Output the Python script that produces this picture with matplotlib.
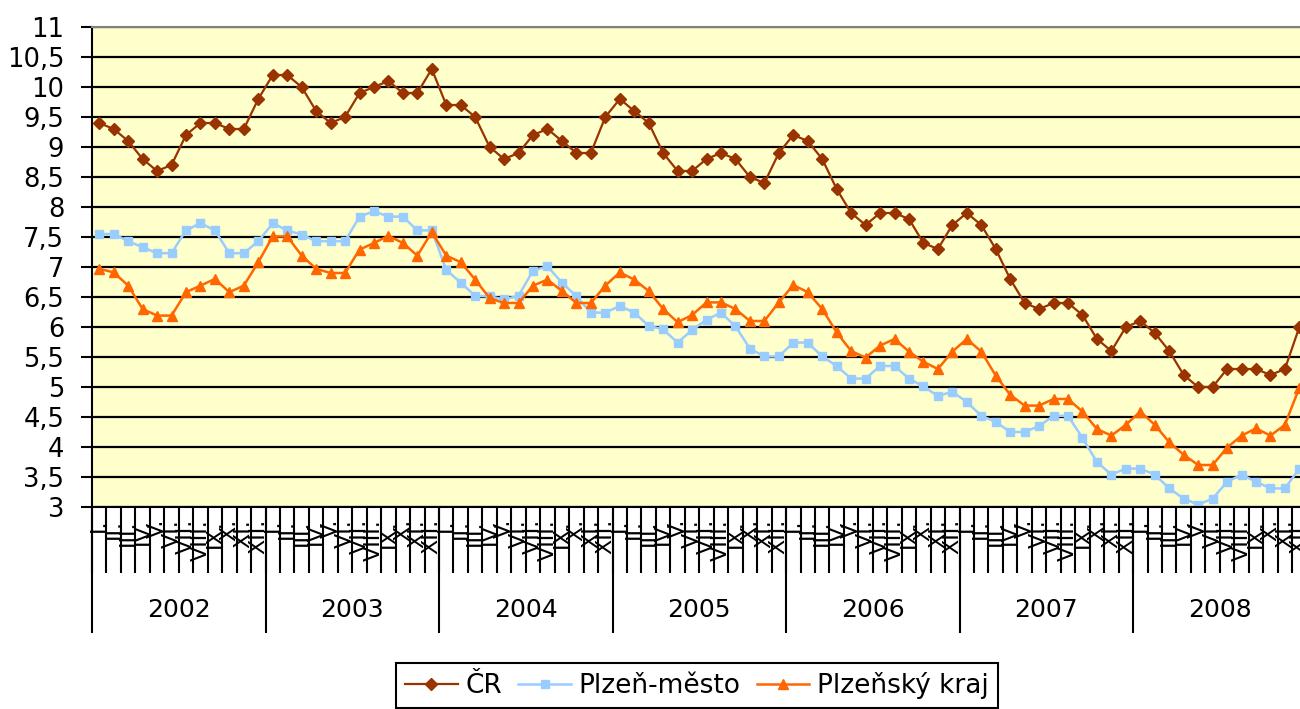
import numpy as np
import matplotlib
matplotlib.use('Agg')
import matplotlib.pyplot as plt

years = ['2002', '2003', '2004', '2005', '2006', '2007', '2008']
months = ['I.', 'II.', 'III.', 'IV.', 'V.', 'VI.', 'VII.', 'VIII.', 'IX.', 'X.', 'XI.', 'XII.']

# nezamestnanost v % (mesicne 2002-2008)
cr = [9.4, 9.3, 9.1, 8.8, 8.6, 8.7, 9.2, 9.4, 9.4, 9.3, 9.3, 9.8,
      10.2, 10.2, 10.0, 9.6, 9.4, 9.5, 9.9, 10.0, 10.1, 9.9, 9.9, 10.3,
      9.7, 9.7, 9.5, 9.0, 8.8, 8.9, 9.2, 9.3, 9.1, 8.9, 8.9, 9.5,
      9.8, 9.6, 9.4, 8.9, 8.6, 8.6, 8.8, 8.9, 8.8, 8.5, 8.4, 8.9,
      9.2, 9.1, 8.8, 8.3, 7.9, 7.7, 7.9, 7.9, 7.8, 7.4, 7.3, 7.7,
      7.9, 7.7, 7.3, 6.8, 6.4, 6.3, 6.4, 6.4, 6.2, 5.8, 5.6, 6.0,
      6.1, 5.9, 5.6, 5.2, 5.0, 5.0, 5.3, 5.3, 5.3, 5.2, 5.3, 6.0]

plzen_mesto = [7.55, 7.55, 7.43, 7.33, 7.23, 7.23, 7.61, 7.73, 7.61, 7.23, 7.23, 7.43,
               7.73, 7.61, 7.54, 7.43, 7.43, 7.43, 7.84, 7.93, 7.84, 7.84, 7.61, 7.61,
               6.95, 6.74, 6.52, 6.51, 6.46, 6.52, 6.94, 7.01, 6.74, 6.51, 6.24, 6.24,
               6.35, 6.24, 6.02, 5.96, 5.74, 5.95, 6.12, 6.24, 6.01, 5.64, 5.51, 5.51,
               5.74, 5.74, 5.51, 5.35, 5.14, 5.14, 5.35, 5.35, 5.14, 5.01, 4.85, 4.92,
               4.75, 4.52, 4.42, 4.25, 4.25, 4.35, 4.52, 4.52, 4.15, 3.75, 3.54, 3.64,
               3.64, 3.54, 3.31, 3.14, 3.04, 3.14, 3.42, 3.54, 3.42, 3.31, 3.31, 3.64]

plzensky_kraj = [6.97, 6.91, 6.69, 6.3, 6.19, 6.19, 6.58, 6.69, 6.8, 6.58, 6.69, 7.08,
                 7.51, 7.51, 7.19, 6.97, 6.9, 6.9, 7.29, 7.4, 7.52, 7.4, 7.19, 7.58,
                 7.19, 7.08, 6.79, 6.48, 6.4, 6.4, 6.69, 6.79, 6.6, 6.4, 6.4, 6.69,
                 6.91, 6.79, 6.6, 6.3, 6.08, 6.2, 6.41, 6.41, 6.3, 6.1, 6.1, 6.41,
                 6.7, 6.58, 6.3, 5.91, 5.6, 5.49, 5.69, 5.8, 5.59, 5.42, 5.3, 5.59,
                 5.8, 5.59, 5.19, 4.87, 4.69, 4.69, 4.8, 4.8, 4.59, 4.3, 4.19, 4.37,
                 4.59, 4.37, 4.08, 3.87, 3.7, 3.7, 3.99, 4.19, 4.31, 4.19, 4.37, 4.99]

labels = ['ČR', 'Plzeň-město', 'Plzeňský kraj']

n = len(cr)
x = np.arange(n)

fig = plt.figure(figsize=(13, 7.09), dpi=100)
ax = fig.add_axes([92 / 1300, 202 / 709, 1214.6 / 1300, 480 / 709])
ax.set_facecolor('#FFFFCC')

l1, = ax.plot(x, cr, color='#993300', lw=1.6, marker='D', ms=6, label=labels[0])
l2, = ax.plot(x, plzen_mesto, color='#99CCFF', lw=1.8, marker='s', ms=5.5, label=labels[1])
l3, = ax.plot(x, plzensky_kraj, color='#FF6600', lw=1.8, marker='^', ms=7.5, label=labels[2])

ax.set_xlim(-0.5, n - 0.5)
ax.set_ylim(3, 11)
yt = np.arange(3, 11.01, 0.5)
ax.set_yticks(yt)
ax.set_yticklabels([('%g' % v).replace('.', ',') for v in yt], fontsize=18.5)
ax.tick_params(axis='y', length=8, width=1.5, pad=12)
ax.set_xticks([])
ax.yaxis.grid(True, color='black', lw=1.6)
ax.set_axisbelow(True)

ax.spines['top'].set_color('#808080')
ax.spines['top'].set_linewidth(1.5)
ax.spines['right'].set_visible(False)
ax.spines['left'].set_linewidth(1.5)
ax.spines['bottom'].set_linewidth(1.5)

# popisky os - mesice a roky
tr = ax.get_xaxis_transform()
ax.vlines(np.arange(n + 1) - 0.5, -0.1375, 0, transform=tr, colors='black', lw=1.5, clip_on=False)
ax.vlines(np.arange(0, n + 1, 12) - 0.5, -0.2625, 0, transform=tr, colors='black', lw=1.5, clip_on=False)
for i in range(n):
    ax.text(i, -0.025, months[i % 12], rotation=90, ha='center', va='top',
            fontsize=16, transform=tr, clip_on=False)
for k, yr in enumerate(years):
    ax.text(12 * k + 5.5, -0.215, yr, ha='center', va='center', fontsize=18,
            transform=tr)

leg = fig.legend([l1, l2, l3], labels, loc='upper center', bbox_to_anchor=(697 / 1300, 46 / 709),
                 ncol=3, fontsize=19, frameon=True, fancybox=False, framealpha=1,
                 edgecolor='black', handlelength=2.0, handletextpad=0.3,
                 columnspacing=0.6, borderpad=0.35, borderaxespad=0)
leg.get_frame().set_linewidth(1.5)

fig.savefig('out.png', dpi=100)
